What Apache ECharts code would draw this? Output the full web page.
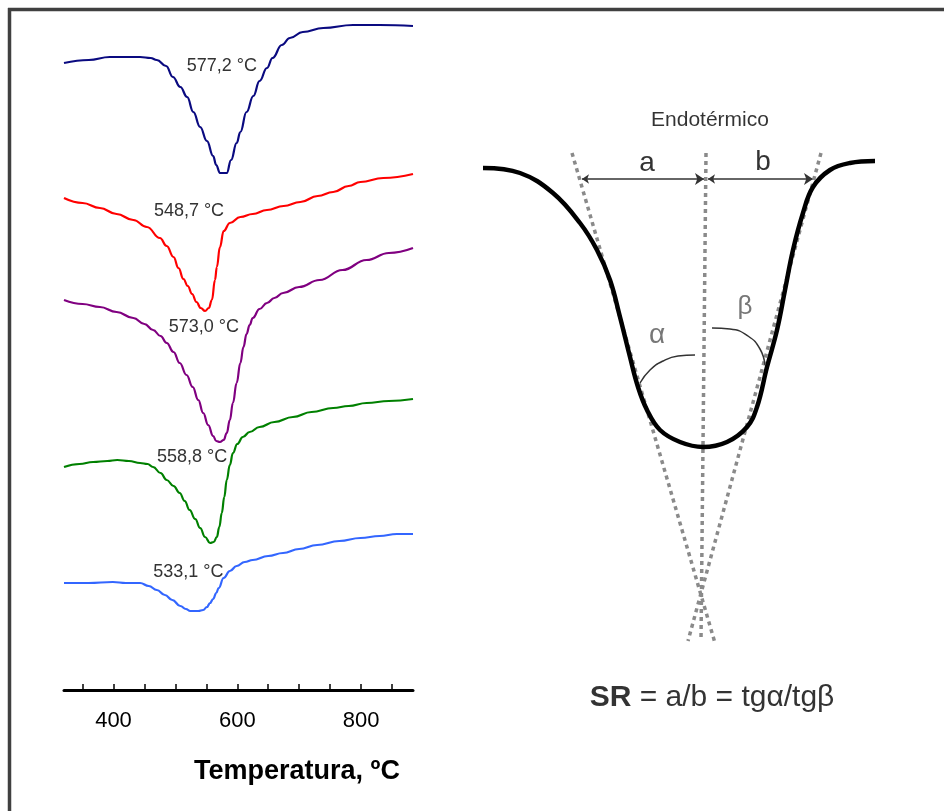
<!DOCTYPE html>
<html>
<head>
<meta charset="utf-8">
<script src="https://cdn.jsdelivr.net/npm/echarts@6/dist/echarts.min.js"></script>
<style>
  html, body { margin: 0; padding: 0; background: #fff; }
  #chart { width: 944px; height: 811px; }
</style>
</head>
<body>
<div id="chart"></div>
<script>
// DTA curves, temperature (ºC) vs signal (arbitrary units, offset per curve)
var curve1 = [[320,627],[360,630],[394,633],[443,633],[460,632],[470,630],[485,624],[496,613],[508,603],[519,593],[529,578],[540,563],[551,549],[561,534],[566,525],[572,517],[583,517],[590,530],[599,547],[605,558],[615,578],[626,594],[636,609],[648,622],[657,632],[672,645],[685,652],[706,658],[739,662],[787,665],[830,665],[884,664]];
var curve2 = [[320,492],[350,487],[378,482],[405,476],[432,470],[454,463],[475,452],[486,444],[497,433],[505,422],[513,411],[520,404],[527,396],[534,388],[541,382],[548,379],[554,382],[559,390],[564,410],[567,423],[572,443],[578,459],[588,467],[605,473],[625,476],[648,480],[675,484],[702,488],[730,494],[755,498],[780,504],[799,508],[836,512],[884,516]];
var curve3 = [[320,390],[350,386],[378,383],[405,378],[432,372],[450,366],[464,360],[476,354],[486,347],[497,338],[507,327],[518,315],[528,303],[537,290],[545,277],[553,265],[561,254],[566,249],[572,248],[578,250],[583,257],[588,270],[593,287],[599,307],[605,327],[610,343],[615,356],[620,365],[625,372],[636,381],[648,387],[660,392],[674,397],[700,403],[733,410],[770,420],[809,430],[845,437],[884,442]];
var curve4 = [[320,223],[345,226],[367,228],[390,229],[406,230],[425,229],[443,227],[455,226],[464,223],[476,217],[486,210],[497,204],[507,197],[515,189],[523,180],[532,171],[540,162],[548,153],[556,147],[562,148],[567,153],[571,163],[575,177],[579,193],[583,210],[588,225],[593,237],[600,246],[609,253],[620,258],[636,263],[660,268],[690,273],[720,278],[755,282],[780,284],[809,287],[845,289],[884,291]];
var curve5 = [[320,107],[360,107],[399,108],[420,107],[443,107],[457,104],[470,100],[483,95],[495,90],[508,84],[517,81],[524,79],[537,79],[545,80],[551,83],[556,87],[561,91],[566,97],[570,102],[578,112],[588,119],[599,124],[612,128],[625,130],[650,134],[674,137],[700,141],[729,145],[765,149],[799,152],[830,154],[858,156],[884,156]];

var peakLabels = ['577,2 °C', '548,7 °C', '573,0 °C', '558,8 °C', '533,1 °C'];
var peakLabelAt = [[575,624],[522,479],[546,363],[527,233],[521,118]];
var tickValues = [350,400,450,500,550,600,650,700,750,800,850];
var labelValues = [400,600,800];

// schematic of an endothermic peak (x, y relative to the peak bottom)
var peakShape = [[-222,279],[-185,274],[-152,254],[-125,224],[-108,197],[-95,167],[-85,130],[-75,90],[-67,60],[-58,37],[-45,17],[-25,5],[-2,0],[22,5],[42,20],[52,40],[62,80],[72,117],[80,157],[88,197],[98,234],[108,260],[125,277],[145,284],[170,286]];
var centerLine = [[1,294],[-4,-193]];
var leftTangent = [[-133,294],[10,-196]];
var rightTangent = [[116,294],[-17,-194]];
var arrowA = [[-123,268],[-1,268]];
var arrowB = [[3,268],[108,268]];
var arcAlpha = [[-65,64],[-55,77],[-42,86],[-27,91],[-10,92]];
var arcBeta = [[7,119],[25,118],[43,111],[55,98],[60,82]];

var colors = ['#0a0a80', '#ff0000', '#800080', '#008000', '#3366ff'];
var curves = [curve1, curve2, curve3, curve4, curve5];
var FONT = '"Liberation Sans", Arial, sans-serif';

var chart = echarts.init(document.getElementById('chart'));

var series = curves.map(function (c, i) {
  return {
    type: 'line', xAxisIndex: 0, yAxisIndex: 0,
    data: c, showSymbol: false, smooth: 0.45, smoothMonotone: 'x', silent: true,
    lineStyle: { color: colors[i], width: 2.2 },
    markPoint: {
      symbolSize: 0, silent: true,
      data: [{ coord: peakLabelAt[i], value: peakLabels[i] }],
      label: { show: true, position: 'inside', color: '#333', fontSize: 18, fontFamily: FONT,
        formatter: function (p) { return p.value; } }
    }
  };
});

var dotted = { color: '#8a8a8a', width: 3.5, type: [4, 4] };
[centerLine, leftTangent, rightTangent].forEach(function (l) {
  series.push({ type: 'line', xAxisIndex: 1, yAxisIndex: 1, data: l, showSymbol: false, silent: true, lineStyle: dotted });
});
series.push({ type: 'line', xAxisIndex: 1, yAxisIndex: 1, data: peakShape, showSymbol: false, smooth: 0.4, silent: true,
  lineStyle: { color: '#000', width: 4.5 } });
[arcAlpha, arcBeta].forEach(function (a) {
  series.push({ type: 'line', xAxisIndex: 1, yAxisIndex: 1, data: a, showSymbol: false, smooth: 0.5, silent: true,
    lineStyle: { color: '#333', width: 1.5 } });
});
series.push({
  type: 'lines', coordinateSystem: 'cartesian2d', xAxisIndex: 1, yAxisIndex: 1, silent: true,
  symbol: ['arrow', 'arrow'], symbolSize: [7, 9],
  lineStyle: { color: '#333', width: 1.5, opacity: 1 },
  data: [{ coords: arrowA }, { coords: arrowB }]
});
series.push({
  type: 'scatter', xAxisIndex: 1, yAxisIndex: 1, symbolSize: 0, silent: true,
  label: { show: true, position: 'inside', fontFamily: FONT, color: '#000' },
  data: [
    { value: [5, 327], label: { formatter: 'Endotérmico', fontSize: 21, color: '#000' } },
    { value: [-58, 284], label: { formatter: 'a', fontSize: 28, color: '#000' } },
    { value: [58, 285], label: { formatter: 'b', fontSize: 28, color: '#000' } },
    { value: [-48, 112], label: { formatter: 'α', fontSize: 28, color: '#555' } },
    { value: [40, 140], label: { formatter: 'β', fontSize: 26, color: '#555' } },
    { value: [7, -251], label: { formatter: '{b|SR} = a/b = tgα/tgβ', fontSize: 30, color: '#000',
        rich: { b: { fontWeight: 'bold', fontSize: 30, fontFamily: FONT, color: '#000' } } } }
  ]
});

chart.setOption({
  backgroundColor: '#fff',
  animation: false,
  grid: [
    { left: 64, top: 20, width: 349, height: 670 },
    { left: 470, top: 0, width: 474, height: 811 }
  ],
  xAxis: [
    {
      type: 'value', gridIndex: 0, min: 320, max: 884,
      splitLine: { show: false },
      axisLine: { onZero: false, lineStyle: { color: '#000', width: 3 } },
      axisTick: { show: true, inside: true, length: 6, customValues: tickValues, lineStyle: { color: '#000', width: 1.5 } },
      axisLabel: { customValues: labelValues, margin: 20, color: '#000', fontSize: 22, fontFamily: FONT }
    },
    { type: 'value', gridIndex: 1, min: -235, max: 239, show: false }
  ],
  yAxis: [
    { type: 'value', gridIndex: 0, min: 0, max: 670, show: false },
    { type: 'value', gridIndex: 1, min: -364, max: 447, show: false }
  ],
  graphic: [
    { type: 'line', shape: { x1: 8, y1: 9.5, x2: 944, y2: 9.5 }, style: { stroke: '#404040', lineWidth: 3.5 } },
    { type: 'line', shape: { x1: 9.5, y1: 8, x2: 9.5, y2: 811 }, style: { stroke: '#404040', lineWidth: 3.5 } },
    { type: 'text', x: 297, y: 772, style: { text: 'Temperatura, ºC', fontSize: 27, fontWeight: 'bold', fontFamily: FONT,
        fill: '#000', align: 'center', verticalAlign: 'middle' } }
  ],
  series: series
});
</script>
</body>
</html>
